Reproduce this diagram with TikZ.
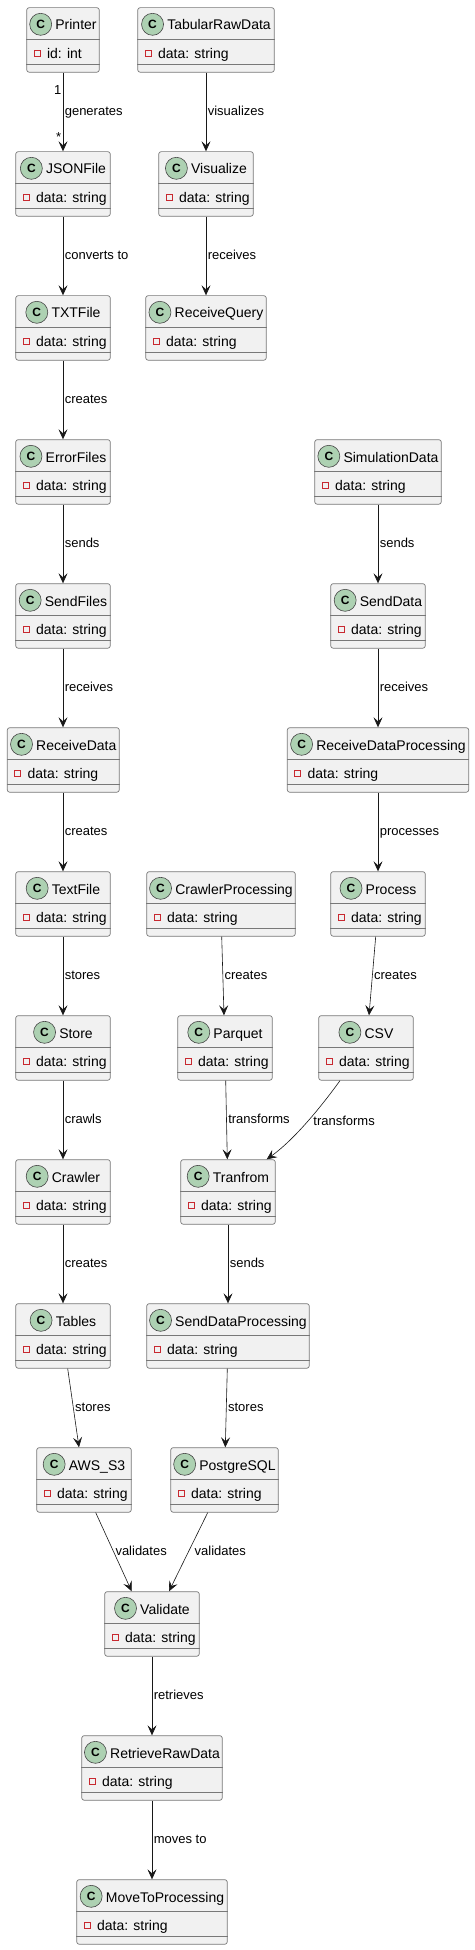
\documentclass[tikz,border=0pt]{standalone}
\usepackage{fontspec}
\setmainfont{Liberation Sans}
\usepackage{xcolor}
\definecolor{umlfill}{RGB}{241,241,241}
\definecolor{umlborder}{RGB}{24,24,24}
\definecolor{umlframe}{RGB}{120,120,120}
\definecolor{umlspot}{RGB}{173,209,178}
\definecolor{umlred}{RGB}{200,41,48}
\usetikzlibrary{arrows.meta,positioning,calc}

\tikzset{
  classbox/.style={draw=umlframe, fill=umlfill, line width=0.7pt, rounded corners=2.5pt, minimum height=64.6pt, inner sep=0pt, anchor=north},
  classline/.style={draw=umlframe, line width=0.7pt},
  classname/.style={font=\fontsize{14}{16}\selectfont, inner sep=0pt, anchor=base},
  classattr/.style={font=\fontsize{14}{16}\selectfont, inner sep=0pt, anchor=base west},
  spot/.style={circle, draw=umlborder!80, fill=umlspot, line width=0.6pt, minimum size=22pt, inner sep=0pt, font=\bfseries\fontsize{12}{12}\selectfont},
  privmark/.style={draw=umlred, line width=0.6pt, minimum size=6pt, inner sep=0pt},
  assoc/.style={draw=umlborder, line width=0.6pt, -{Stealth[length=10pt,width=9pt,inset=4pt]}},
  edgelabel/.style={font=\fontsize{13}{15}\selectfont, inner sep=0pt, anchor=west, xshift=1.5pt, text height=9.5pt, text depth=2.5pt},
  multlabel/.style={font=\fontsize{13}{15}\selectfont, inner sep=0pt, anchor=base east},
}

% class box: name, x, top y, width, title, attribute
\newcommand{\umlclass}[6]{%
  \node[classbox, minimum width=#4] (#1) at (#2,#3) {};
  \draw[classline] ([yshift=-32pt]#1.north west) -- ([yshift=-32pt]#1.north east);
  \draw[classline] ([yshift=-56.6pt]#1.north west) -- ([yshift=-56.6pt]#1.north east);
  \node[classname] (#1-name) at ([xshift=13pt,yshift=-22.7pt]#1.north) {#5};
  \node[spot] (#1-spot) at ($(#1-name.west |- #1.north)+(-14.5,17)$) {C};
  \node[privmark] (#1-mark) at ([xshift=10.7pt,yshift=-46.3pt]#1.north west) {};
  \node[classattr] (#1-attr) at ([xshift=20.5pt,yshift=-51pt]#1.north west) {#6};
}

\begin{document}
\begin{tikzpicture}[x=1pt, y=-1pt]
\useasboundingbox (0,0) rectangle (474,1950);

% left column
\umlclass{printer}{63}{7.3}{72.6pt}{Printer}{id: int}
\umlclass{jsonfile}{63}{151.3}{94.6pt}{JSONFile}{data: string}
\umlclass{txtfile}{63}{295.3}{94.6pt}{TXTFile}{data: string}
\umlclass{errorfiles}{63}{439.3}{94.6pt}{ErrorFiles}{data: string}
\umlclass{sendfiles}{63}{583.3}{94.6pt}{SendFiles}{data: string}
\umlclass{receivedata}{63.3}{727.3}{112pt}{ReceiveData}{data: string}
\umlclass{textfile}{63}{871.3}{94.6pt}{TextFile}{data: string}
\umlclass{store}{63}{1015.3}{94.6pt}{Store}{data: string}
\umlclass{crawler}{63}{1159.3}{94.6pt}{Crawler}{data: string}
\umlclass{tables}{63}{1303.3}{94.6pt}{Tables}{data: string}
\umlclass{awss3}{84}{1447.3}{94.6pt}{AWS\_S3}{data: string}

% middle column
\umlclass{tabular}{206}{7.3}{136.6pt}{TabularRawData}{data: string}
\umlclass{visualize}{206}{151.3}{94.6pt}{Visualize}{data: string}
\umlclass{receivequery}{206}{295.3}{120.6pt}{ReceiveQuery}{data: string}
\umlclass{crawlerproc}{221}{871.3}{148.6pt}{CrawlerProcessing}{data: string}
\umlclass{parquet}{225}{1015.3}{94.6pt}{Parquet}{data: string}
\umlclass{tranfrom}{228}{1159.3}{94.6pt}{Tranfrom}{data: string}
\umlclass{senddataproc}{228}{1303.3}{162.6pt}{SendDataProcessing}{data: string}
\umlclass{postgres}{224.5}{1447.3}{107.6pt}{PostgreSQL}{data: string}

% right column
\umlclass{simdata}{378}{439.3}{126.6pt}{SimulationData}{data: string}
\umlclass{senddata}{378}{583.3}{94.6pt}{SendData}{data: string}
\umlclass{receiveproc}{378}{727.3}{181.4pt}{ReceiveDataProcessing}{data: string}
\umlclass{process}{378}{871.3}{94.6pt}{Process}{data: string}
\umlclass{csv}{366}{1015.3}{94.6pt}{CSV}{data: string}

% bottom
\umlclass{validate}{152}{1591.3}{94.6pt}{Validate}{data: string}
\umlclass{retrieve}{152}{1735.3}{140.6pt}{RetrieveRawData}{data: string}
\umlclass{moveto}{152}{1879.3}{150.6pt}{MoveToProcessing}{data: string}

% associations
\draw[assoc] (printer.south) -- (jsonfile.north) node[midway, edgelabel]{generates};
\node[multlabel] (printer-mult) at ([xshift=-1.5pt,yshift=-22pt]printer.south) {1};
\node[multlabel] (jsonfile-mult) at ([xshift=-1.5pt,yshift=9.5pt]jsonfile.north) {*};
\draw[assoc] (tabular.south) -- (visualize.north) node[midway, edgelabel]{visualizes};
\draw[assoc] (jsonfile.south) -- (txtfile.north) node[midway, edgelabel]{converts to};
\draw[assoc] (visualize.south) -- (receivequery.north) node[midway, edgelabel]{receives};
\draw[assoc] (txtfile.south) -- (errorfiles.north) node[midway, edgelabel]{creates};
\draw[assoc] (errorfiles.south) -- (sendfiles.north) node[midway, edgelabel]{sends};
\draw[assoc] (simdata.south) -- (senddata.north) node[midway, edgelabel]{sends};
\draw[assoc] (sendfiles.south) -- ([xshift=-0.3pt]receivedata.north) node[midway, edgelabel]{receives};
\draw[assoc] (senddata.south) -- (receiveproc.north) node[midway, edgelabel]{receives};
\draw[assoc] ([xshift=-0.3pt]receivedata.south) -- (textfile.north) node[midway, edgelabel]{creates};
\draw[assoc] (receiveproc.south) -- (process.north) node[midway, edgelabel]{processes};
\draw[assoc] (textfile.south) -- (store.north) node[midway, edgelabel]{stores};
\draw[assoc] ([xshift=0.7pt]crawlerproc.south) -- ([xshift=-1pt]parquet.north) node[midway, edgelabel]{creates};
\draw[assoc] ([xshift=-2.3pt]process.south) -- ([xshift=3pt]csv.north) node[midway, edgelabel]{creates};
\draw[assoc] (store.south) -- (crawler.north) node[midway, edgelabel]{crawls};
\draw[assoc] ([xshift=0.7pt]parquet.south) -- ([xshift=-0.7pt]tranfrom.north) node[midway, edgelabel]{transforms};
\draw[assoc] ([xshift=-26pt]csv.south) .. controls +(-18,25) and +(28,-20) .. ([xshift=38.7pt]tranfrom.north) node[midway, edgelabel, xshift=4.5pt]{transforms};
\draw[assoc] (crawler.south) -- (tables.north) node[midway, edgelabel]{creates};
\draw[assoc] (tranfrom.south) -- (senddataproc.north) node[midway, edgelabel]{sends};
\draw[assoc] ([xshift=4.7pt]tables.south) -- ([xshift=-5pt]awss3.north) node[midway, edgelabel]{stores};
\draw[assoc] ([xshift=-0.7pt]senddataproc.south) -- ([xshift=0.8pt]postgres.north) node[midway, edgelabel]{stores};
\draw[assoc] ([xshift=11.7pt]awss3.south) -- ([xshift=-20.3pt]validate.north) node[midway, edgelabel]{validates};
\draw[assoc] ([xshift=-16.8pt]postgres.south) -- ([xshift=17pt]validate.north) node[midway, edgelabel, xshift=4.5pt]{validates};
\draw[assoc] (validate.south) -- (retrieve.north) node[midway, edgelabel]{retrieves};
\draw[assoc] (retrieve.south) -- (moveto.north) node[midway, edgelabel]{moves to};
\end{tikzpicture}
\end{document}
